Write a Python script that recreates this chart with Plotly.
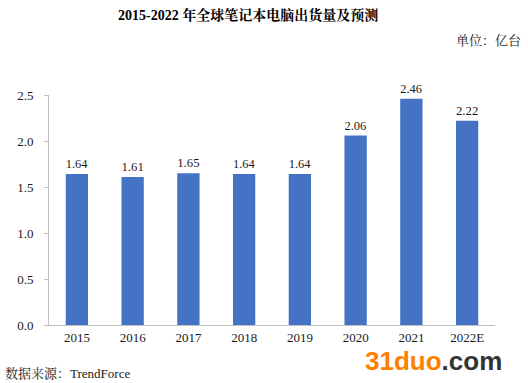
import plotly.graph_objects as go

years = ["2015", "2016", "2017", "2018", "2019", "2020", "2021", "2022E"]
shipments = [1.64, 1.61, 1.65, 1.64, 1.64, 2.06, 2.46, 2.22]
y_ticks = [0.0, 0.5, 1.0, 1.5, 2.0, 2.5]

title_text = "2015-2022 年全球笔记本电脑出货量及预测"
unit_text = "单位：亿台"
source_text = "数据来源：TrendForce"

SERIF = "Times New Roman, Liberation Serif, Noto Serif CJK SC, Noto Sans CJK SC, serif"

fig = go.Figure()
fig.add_trace(go.Bar(
    x=years, y=shipments,
    marker=dict(color="#4472C4", line=dict(width=0)),
    text=[f"{v:.2f}" for v in shipments],
    textposition="outside",
    textfont=dict(family=SERIF, size=13, color="#1a1a1a"),
    cliponaxis=False,
    hoverinfo="skip",
))

fig.update_layout(
    width=528, height=383,
    margin=dict(l=49, r=33, t=95, b=58),
    paper_bgcolor="white", plot_bgcolor="white",
    bargap=0.6,
    showlegend=False,
    font=dict(family=SERIF, color="#1a1a1a"),
    xaxis=dict(
        showline=True, linecolor="#bfbfbf", linewidth=1,
        showgrid=False, ticks="", tickfont=dict(family=SERIF, size=13, color="#1a1a1a"),
    ),
    yaxis=dict(
        range=[0, 2.5], tickvals=y_ticks, ticktext=[f"{v:.1f}" for v in y_ticks],
        showline=True, linecolor="#bfbfbf", linewidth=1,
        showgrid=False, zeroline=False,
        ticks="outside", ticklen=4, tickcolor="#bfbfbf",
        ticklabelstandoff=8,
        tickfont=dict(family=SERIF, size=13, color="#1a1a1a"),
    ),
    annotations=[
        dict(text=f"<b>{title_text}</b>", xref="paper", yref="paper",
             x=(248 - 49) / 446, y=1 + (95 - 15) / 230, xanchor="center", yanchor="middle",
             showarrow=False, font=dict(family=SERIF, size=14, color="#000000")),
        dict(text=unit_text, xref="paper", yref="paper",
             x=(523 - 49) / 446, y=1 + (95 - 40) / 230, xanchor="right", yanchor="middle",
             showarrow=False, font=dict(family=SERIF, size=13, color="#1a1a1a")),
        dict(text=source_text, xref="paper", yref="paper",
             x=(3 - 49) / 446, y=-(373 - 325) / 230, xanchor="left", yanchor="middle",
             showarrow=False, font=dict(family=SERIF, size=13, color="#1a1a1a")),
        dict(text="<b><span style='color:#FF7F00'>31duo</span><span style='color:#333333'>.com</span></b>",
             xref="paper", yref="paper",
             x=(433 - 49) / 446, y=-(361 - 325) / 230, xanchor="center", yanchor="middle",
             showarrow=False, font=dict(family="Liberation Sans, Arial, sans-serif", size=26)),
    ],
)

fig.write_html("out.html", config={"displayModeBar": False},
               post_script="document.body.style.margin='0';document.body.style.overflow='hidden';")
